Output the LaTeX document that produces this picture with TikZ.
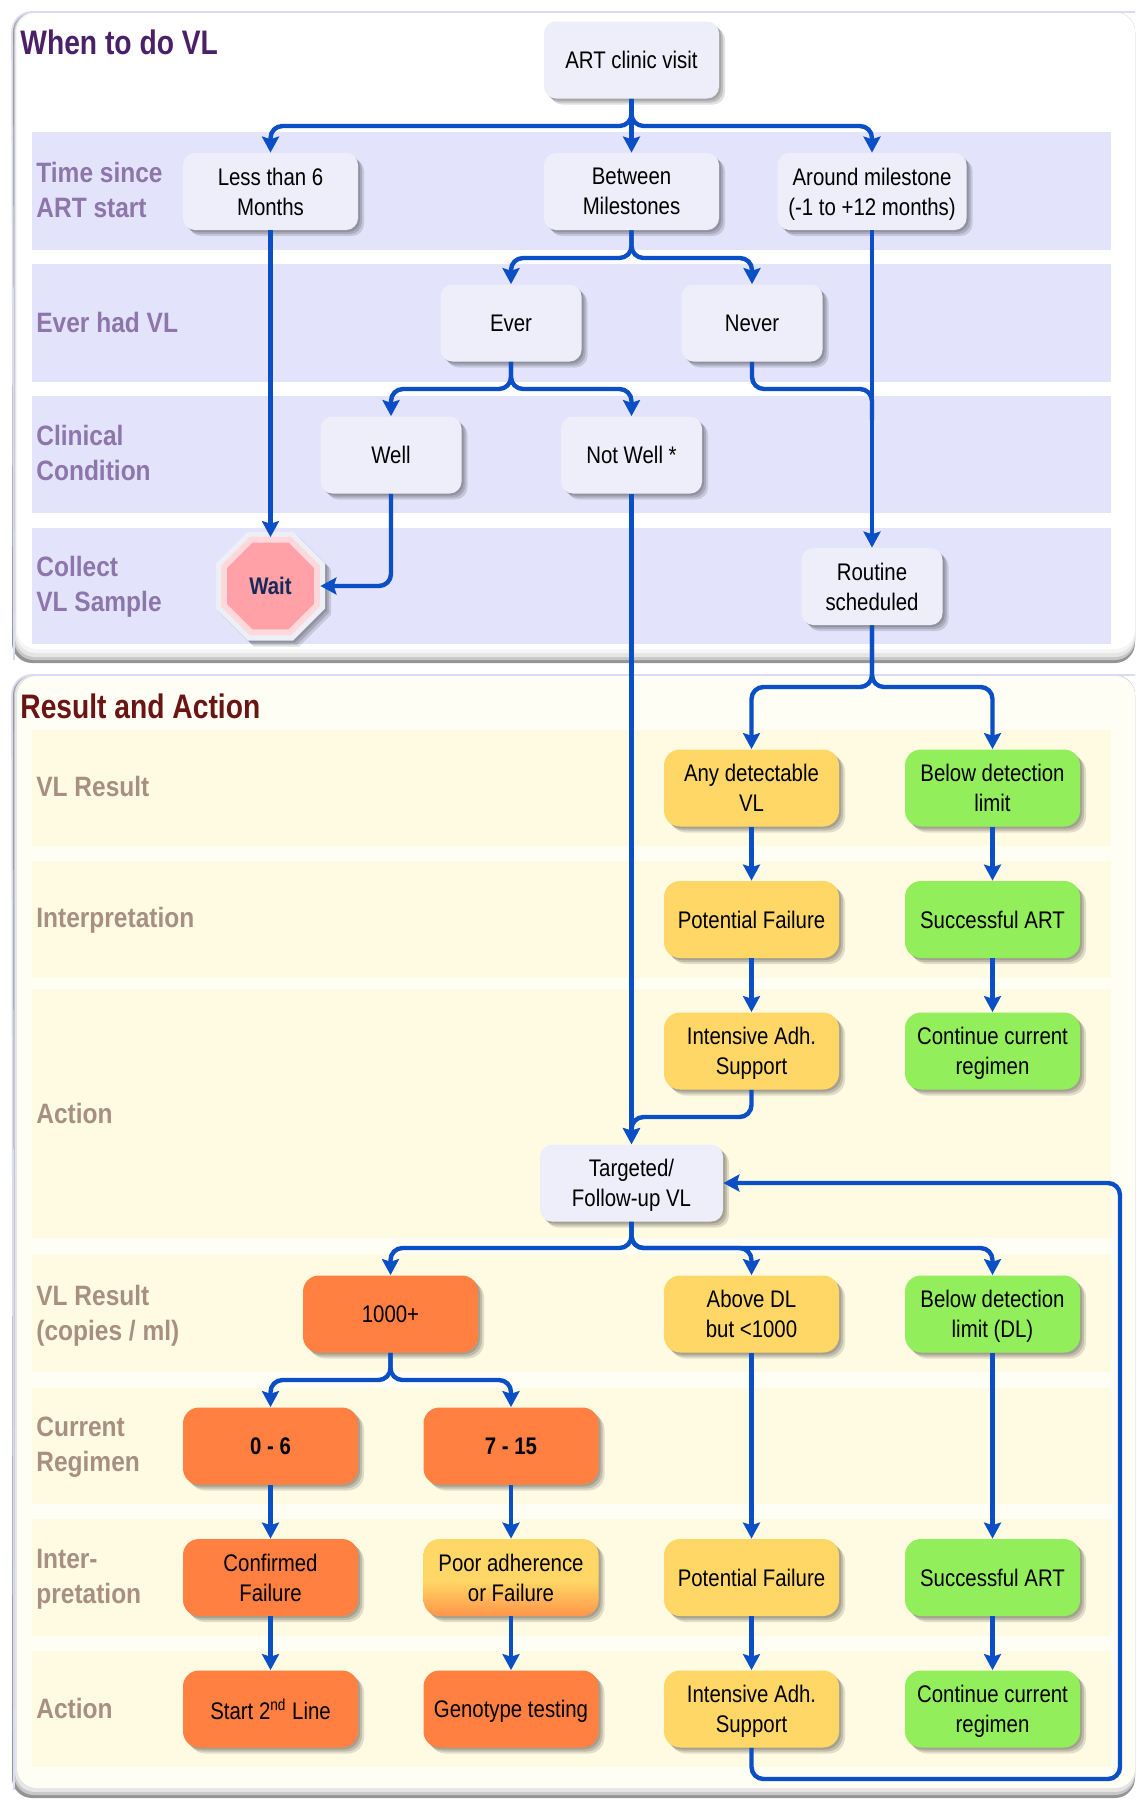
\documentclass[tikz,border=0pt]{standalone}
\usepackage{fontspec}
\setmainfont[FakeStretch=0.85]{Liberation Sans}
\newfontfamily\lblfont[FakeStretch=0.875]{Liberation Sans}
\newfontfamily\ttlfont[FakeStretch=0.83]{Liberation Sans}
\usetikzlibrary{arrows.meta,shadows,shapes.geometric}
\newcommand{\nod}[1]{\raisebox{0pt}[\height][0pt]{#1}}
\definecolor{flowc}{HTML}{0A4FC6}
\definecolor{paleb}{HTML}{EEEEFA}
\definecolor{bandb}{HTML}{E3E3FB}
\definecolor{bandy}{HTML}{FFFBE3}
\definecolor{panely}{HTML}{FFFEF5}
\definecolor{orng}{HTML}{FF8040}
\definecolor{yell}{HTML}{FFD766}
\definecolor{gren}{HTML}{92EE5A}
\definecolor{lblp}{HTML}{8C76AA}
\definecolor{lbly}{HTML}{A89080}
\definecolor{edgel}{HTML}{DADAF2}
\definecolor{waito}{HTML}{EEEEF6}
\definecolor{waitm}{HTML}{FFD8DC}
\definecolor{waitf}{HTML}{FFA1A6}
\definecolor{waitt}{HTML}{14285A}
\definecolor{ttlp}{HTML}{4A2068}
\definecolor{ttlr}{HTML}{6B1414}
\pgfdeclareverticalshading{poorshade}{100bp}{color(0bp)=(orng!75!yell); color(25bp)=(orng!75!yell); color(48bp)=(yell); color(75bp)=(yell); color(100bp)=(yell)}
\tikzset{
  softshadow/.style={
    drop shadow={shadow xshift=1pt,shadow yshift=-1pt,opacity=.14,fill=black},
    drop shadow={shadow xshift=2pt,shadow yshift=-2pt,opacity=.14,fill=black},
    drop shadow={shadow xshift=3pt,shadow yshift=-3pt,opacity=.12,fill=black}},
  basebox/.style={inner sep=0pt,minimum height=38.5pt,align=center,text=black,
    font=\fontsize{12}{15}\selectfont,softshadow},
  pale/.style={basebox,fill=paleb,rounded corners=6pt,minimum width=87.5pt},
  paleshort/.style={pale,minimum width=70.5pt},
  yelbox/.style={basebox,fill=yell,rounded corners=8pt,minimum width=87.5pt},
  grnbox/.style={basebox,fill=gren,rounded corners=8pt,minimum width=87.5pt},
  orgbox/.style={basebox,fill=orng,rounded corners=8pt,minimum width=87.5pt},
  rowlblb/.style={anchor=west,align=left,inner sep=0pt,text=lblp,font=\lblfont\bfseries\fontsize{14}{17.5}\selectfont},
  rowlbly/.style={anchor=west,align=left,inner sep=0pt,text=lbly,font=\lblfont\bfseries\fontsize{14}{17.5}\selectfont},
  paneltitle/.style={anchor=west,inner sep=0pt,font=\ttlfont\bfseries\fontsize{17}{20}\selectfont},
  flow/.style={draw=flowc,line width=2.2pt,rounded corners=6pt,
    -{Stealth[length=8pt,width=8.5pt,inset=1.3pt]}},
  flowplain/.style={draw=flowc,line width=2.2pt,rounded corners=6pt},
  octa/.style={regular polygon,regular polygon sides=8,inner sep=0pt},
  bandblue/.style={fill=bandb,draw=none},
  bandyellow/.style={fill=bandy,draw=none},
}
\begin{document}
\begin{tikzpicture}[x=.5pt,y=-.5pt]
\useasboundingbox (0,0) rectangle (1136,1800);
% panels with bevelled shadow edges
\fill[black!42,rounded corners=10pt] (12,12) rectangle (1135,663);
\fill[black!22,rounded corners=10pt] (14,12) rectangle (1135,660);
\fill[black!10,rounded corners=10pt] (15,12) rectangle (1135,657);
\fill[black!4,rounded corners=10pt] (16,12) rectangle (1135,653);
\fill[white,rounded corners=10pt] (17,13) rectangle (1135,649);
\draw[edgel,line width=.9pt,rounded corners=10pt] (14,660) -- (12,12) -- (1135,12);
\fill[black!42,rounded corners=10pt] (12,675) rectangle (1135,1798);
\fill[black!22,rounded corners=10pt] (14,675) rectangle (1135,1795);
\fill[black!10,rounded corners=10pt] (15,675) rectangle (1135,1792);
\fill[panely,rounded corners=10pt] (17,676) rectangle (1135,1788);
\draw[edgel,line width=.9pt,rounded corners=10pt] (14,1790) -- (12,675) -- (1135,675);
% bands
\foreach \a/\b in {132/250,264/382,396/513,528/644}
  \fill[bandblue] (32,\a) rectangle (1111,\b);
\foreach \a/\b in {730/846,861/978,989/1238,1254/1372,1388/1504,1519/1636,1651/1767}
  \fill[bandyellow] (32,\a) rectangle (1111,\b);
% titles
\node[paneltitle,text=ttlp] (t1) at (20,42) {When to do VL};
\node[paneltitle,text=ttlr] (t2) at (20,706) {Result and Action};
% row labels
\node[rowlblb] (l1) at (36,190) {Time since\\ART start};
\node[rowlblb] (l2) at (36,322) {Ever had VL};
\node[rowlblb] (l3) at (36,453) {Clinical\\Condition};
\node[rowlblb] (l4) at (36,587) {Collect\\VL Sample};
\node[rowlbly] (l5) at (36,786) {VL Result};
\node[rowlbly] (l6) at (36,920.5) {Interpretation};
\node[rowlbly] (l7) at (36,1113) {Action};
\node[rowlbly] (l8) at (36,1316) {VL Result\\(copies / ml)};
\node[rowlbly] (l9) at (36,1447.5) {Current\\Regimen};
\node[rowlbly] (l10) at (36,1579.5) {Inter-\\pretation};
\node[rowlbly] (l11) at (36,1708) {Action};
% upper nodes
\node[pale] (art) at (631.5,60) {ART clinic visit};
\node[pale] (less) at (270.5,191.5) {Less than 6\\Months};
\node[pale] (betw) at (631.5,191.5) {Between\\Milestones};
\node[pale,minimum width=94.5pt] (arnd) at (872,191.5) {Around milestone\\\nod{(-1 to +12 months)}};
\node[paleshort] (ever) at (511,323) {Ever};
\node[paleshort] (never) at (752,323) {Never};
\node[paleshort] (well) at (391,455) {Well};
\node[paleshort] (notw) at (631.5,455) {Not Well *};
\node[paleshort] (rout) at (872,586.5) {Routine\\scheduled};
% wait octagon
\node[octa,minimum size=59pt,fill=waito,softshadow] (wait) at (270.5,586) {};
\node[octa,minimum size=53.5pt,fill=waitm] (waitmid) at (270.5,586) {};
\node[octa,minimum size=47pt,fill=waitf,text=waitt,font=\bfseries\fontsize{12}{15}\selectfont] (waiti) at (270.5,586) {Wait};
% lower nodes
\node[yelbox] (any) at (751.5,788) {Any detectable\\VL};
\node[grnbox] (blw) at (992.5,788) {Below detection\\limit};
\node[yelbox] (pot1) at (751.5,919.5) {Potential Failure};
\node[grnbox] (suc1) at (992.5,919.5) {Successful ART};
\node[yelbox] (int1) at (751.5,1051) {Intensive Adh.\\\nod{Support}};
\node[grnbox] (con1) at (992.5,1051) {Continue current\\\nod{regimen}};
\node[pale,minimum width=91.5pt] (targ) at (631.5,1183) {Targeted/\\\nod{Follow-up VL}};
\node[orgbox] (thou) at (390.5,1314) {1000+};
\node[yelbox] (abov) at (751.5,1314) {Above DL\\but <1000};
\node[grnbox] (blwd) at (992.5,1314) {Below detection\\\nod{limit (DL)}};
\node[orgbox,font=\bfseries\fontsize{12}{15}\selectfont] (reg1) at (270.5,1446) {0 - 6};
\node[orgbox,font=\bfseries\fontsize{12}{15}\selectfont] (reg2) at (511,1446) {7 - 15};
\node[orgbox] (conf) at (270.5,1577.5) {Confirmed\\Failure};
\node[basebox,rounded corners=8pt,minimum width=87.5pt,shade,shading=poorshade] (poor) at (511,1577.5) {Poor adherence\\or Failure};
\node[yelbox] (pot2) at (751.5,1577.5) {Potential Failure};
\node[grnbox] (suc2) at (992.5,1577.5) {Successful ART};
\node[orgbox] (star) at (270.5,1709) {Start 2\textsuperscript{nd} Line};
\node[orgbox] (geno) at (511,1709) {\nod{Genotype testing}};
\node[yelbox] (int2) at (751.5,1709) {Intensive Adh.\\\nod{Support}};
\node[grnbox] (con2) at (992.5,1709) {Continue current\\\nod{regimen}};
% fork coordinates
\coordinate (fa) at (631.5,126);
\coordinate (fb) at (631.5,258);
\coordinate (fc) at (511,389);
\coordinate (fd) at (752,389);
\coordinate (fe) at (872,389);
\coordinate (ff) at (872,687);
\coordinate (fg) at (751.5,1117);
\coordinate (fh) at (631.5,1117);
\coordinate (fi) at (631.5,1248);
\coordinate (fj) at (390.5,1380);
\coordinate (fk) at (751.5,1779);
\coordinate (fl) at (1120,1779);
\coordinate (fm) at (1120,1183);
% connectors
\draw[flow] (art.south) -- (fa) -- (fa -| less) -- (less.north);
\draw[flow] (art.south) -- (betw.north);
\draw[flow] (art.south) -- (fa) -- (fa -| arnd) -- (arnd.north);
\draw[flow] (betw.south) -- (fb) -- (fb -| ever) -- (ever.north);
\draw[flow] (betw.south) -- (fb) -- (fb -| never) -- (never.north);
\draw[flow] (ever.south) -- (fc) -- (fc -| well) -- (well.north);
\draw[flow] (ever.south) -- (fc) -- (fc -| notw) -- (notw.north);
\draw[flowplain] (never.south) -- (fd) -- (fe) -- (872,420);
\draw[flow] (arnd.south) -- (rout.north);
\draw[flow,shorten >=-3pt] (less.south) -- (wait.north);
\draw[flow,shorten >=-2.5pt] (well.south) -- (well |- wait) -- (wait.east);
\draw[flow] (notw.south) -- (targ.north);
\draw[flow] (rout.south) -- (ff) -- (ff -| any) -- (any.north);
\draw[flow] (rout.south) -- (ff) -- (ff -| blw) -- (blw.north);
\draw[flow] (any.south) -- (pot1.north);
\draw[flow] (blw.south) -- (suc1.north);
\draw[flow] (pot1.south) -- (int1.north);
\draw[flow] (suc1.south) -- (con1.north);
\draw[flow] (int1.south) -- (fg) -- (fh) -- (targ.north);
\draw[flow] (targ.south) -- (fi) -- (fi -| thou) -- (thou.north);
\draw[flow] (targ.south) -- (fi) -- (fi -| abov) -- (abov.north);
\draw[flow] (targ.south) -- (fi) -- (fi -| blwd) -- (blwd.north);
\draw[flow] (thou.south) -- (thou |- fj) -- (fj -| reg1) -- (reg1.north);
\draw[flow] (thou.south) -- (thou |- fj) -- (fj -| reg2) -- (reg2.north);
\draw[flow] (reg1.south) -- (conf.north);
\draw[flow] (reg2.south) -- (poor.north);
\draw[flow] (conf.south) -- (star.north);
\draw[flow] (poor.south) -- (geno.north);
\draw[flow] (abov.south) -- (pot2.north);
\draw[flow] (blwd.south) -- (suc2.north);
\draw[flow] (pot2.south) -- (int2.north);
\draw[flow] (suc2.south) -- (con2.north);
\draw[flow] (int2.south) -- (fk) -- (fl) -- (fm) -- (targ.east);
\end{tikzpicture}
\end{document}
